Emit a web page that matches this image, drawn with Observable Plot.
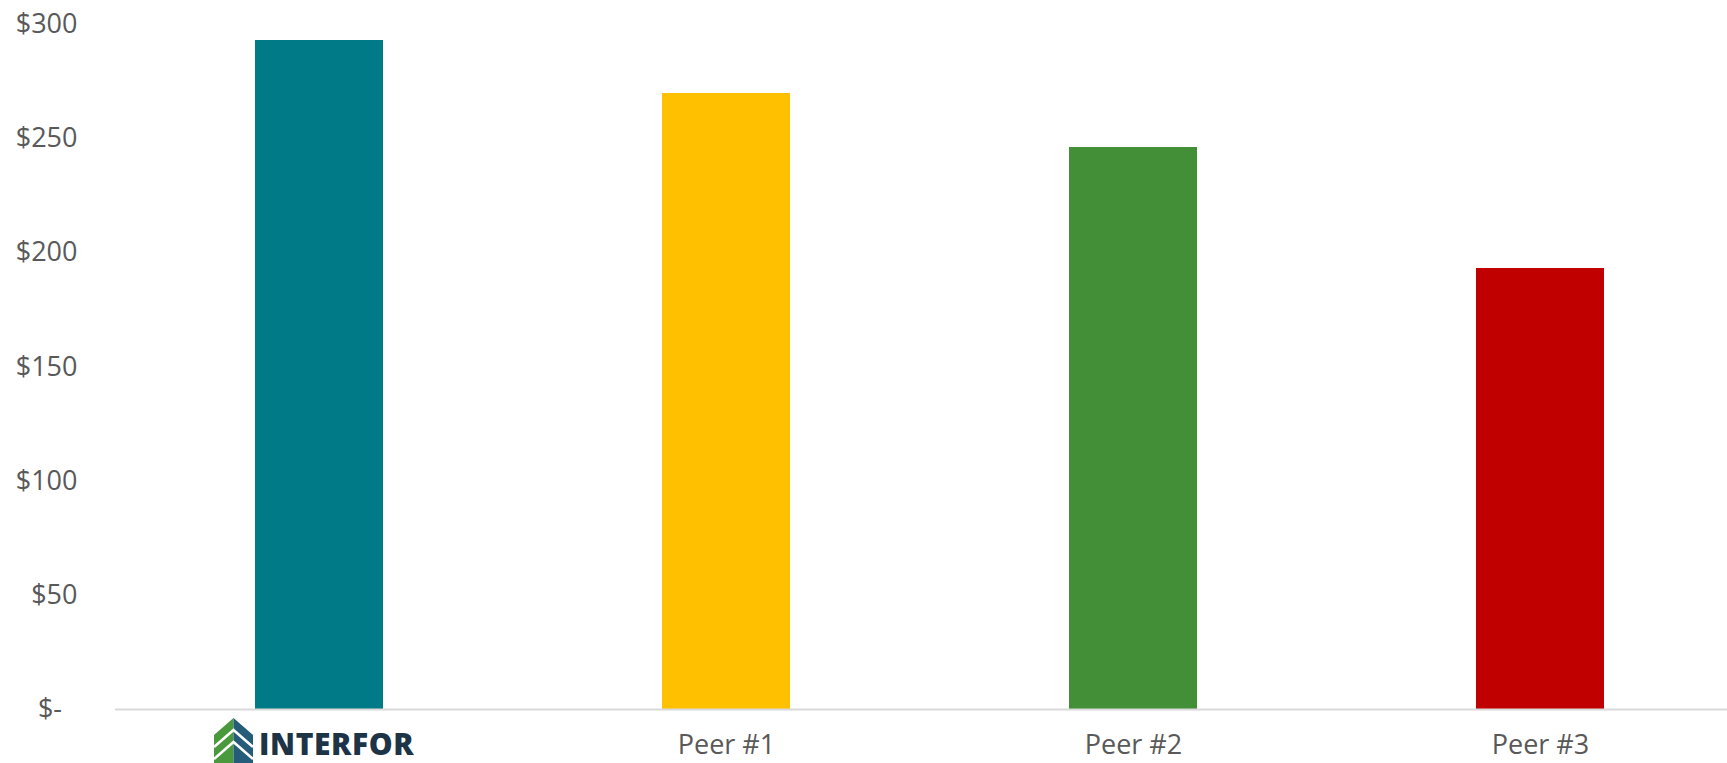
<!DOCTYPE html>
<html>
<head>
<meta charset="utf-8">
<script src="https://cdn.jsdelivr.net/npm/d3@7"></script>
<script src="https://cdn.jsdelivr.net/npm/@observablehq/plot@0.6"></script>
<style>
  html, body { margin: 0; padding: 0; background: #fff; overflow: hidden; }
  #chart svg { display: block; }
</style>
</head>
<body>
<div id="chart"></div>
<script>
// Companies compared and their values ($)
const categories = ["Interfor", "Peer #1", "Peer #2", "Peer #3"];
const values = [293, 270, 246, 193];
const barColors = ["#007A87", "#FFC000", "#438F38", "#C00000"];
const yTicks = [0, 50, 100, 150, 200, 250, 300];

const data = categories.map((name, i) => ({name, value: values[i]}));

const W = 1727, H = 763;
const labelColor = "#595959";

const chart = Plot.plot({
  width: W,
  height: H,
  marginLeft: 115,
  marginRight: 0,
  marginTop: 24,
  marginBottom: 54,
  style: {fontFamily: "'Open Sans', sans-serif", fontSize: "27px", color: labelColor, background: "#fff"},
  x: {domain: categories, range: [115, 1744], paddingInner: 0.686, paddingOuter: 0.343, label: null},
  y: {domain: [0, 300], label: null},
  color: {domain: categories, range: barColors},
  marks: [
    Plot.barY(data, {x: "name", y: "value", fill: "name", shapeRendering: "crispEdges"}),
    Plot.ruleY([0], {stroke: "#d9d9d9", strokeWidth: 2}),
    Plot.axisY({
      ticks: yTicks, tickSize: 0, tickPadding: 38, label: null,
      fontSize: 27, fill: labelColor,
      tickFormat: d => d === 0 ? "$-\u2007" : "$" + d
    }),
    Plot.axisX({
      tickSize: 0, tickPadding: 25, label: null,
      fontSize: 27, fill: labelColor,
      tickFormat: d => d === "Interfor" ? "" : d
    })
  ]
});

// Company logo in place of the first category label
const xs = chart.scale("x"), ys = chart.scale("y");
const cx = xs.apply("Interfor") + xs.bandwidth / 2;
const y0 = ys.apply(0);
const ns = "http://www.w3.org/2000/svg";
const logo = document.createElementNS(ns, "g");
logo.setAttribute("transform", `translate(${cx - 105},${y0 + 9})`);
logo.setAttribute("text-anchor", "start");
logo.innerHTML = `
  <polygon points="0,17 19.5,0 19.5,50 0,50" fill="#4A9A3D"/>
  <polygon points="19.5,0 39,17 39,50 19.5,50" fill="#245C7A"/>
  <polyline points="0,29 19.5,12 39,29" fill="none" stroke="#fff" stroke-width="2.5"/>
  <polyline points="0,41 19.5,24 39,41" fill="none" stroke="#fff" stroke-width="2.5"/>
  <text x="45" y="37" text-anchor="start" font-family="'Open Sans', sans-serif" font-weight="800" font-size="30" letter-spacing="0.6" fill="#1D3447">INTERFOR</text>
`;
chart.appendChild(logo);

document.getElementById("chart").appendChild(chart);
</script>
</body>
</html>
